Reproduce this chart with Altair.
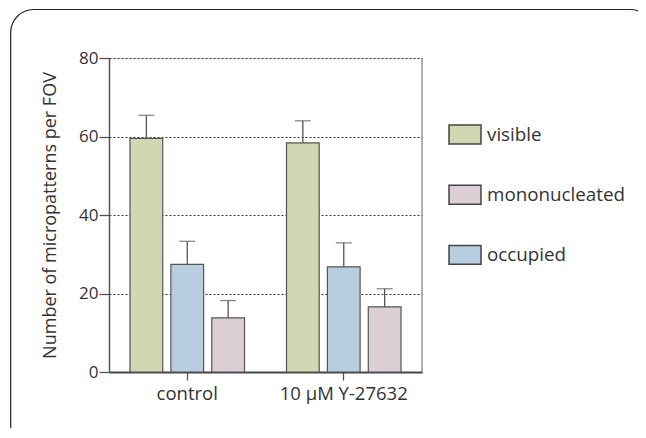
import altair as alt
import pandas as pd

groups = ["control", "10 µM Y-27632"]
series_order = ["visible", "occupied", "mononucleated"]
legend_order = ["visible", "mononucleated", "occupied"]
colors = ["#d0d7b1", "#dbcfd5", "#b8cde0"]

visible_mean = [59.5, 58.4]
visible_err = [65.4, 64.0]
occupied_mean = [27.4, 26.8]
occupied_err = [33.3, 32.9]
mono_mean = [13.8, 16.6]
mono_err = [18.2, 21.2]

y_ticks = [0, 20, 40, 60, 80]

rows = []
for i, g in enumerate(groups):
    rows.append({"group": g, "series": "visible", "value": visible_mean[i], "err": visible_err[i]})
    rows.append({"group": g, "series": "occupied", "value": occupied_mean[i], "err": occupied_err[i]})
    rows.append({"group": g, "series": "mononucleated", "value": mono_mean[i], "err": mono_err[i]})
df = pd.DataFrame(rows)

W, H = 313, 314
FONT = "Open Sans"

x_enc = alt.X(
    "group:N", sort=groups,
    scale=alt.Scale(paddingInner=0, paddingOuter=0),
    axis=alt.Axis(title=None, labelAngle=0, labelFontSize=18.5, labelColor="#333",
                  labelFont=FONT, tickSize=8, tickColor="#555", tickWidth=1.3,
                  domainColor="#444", domainWidth=2, labelPadding=4, grid=False),
)
xoff = alt.XOffset("series:N", sort=series_order,
                   scale=alt.Scale(paddingInner=0.2, paddingOuter=0.513))
y_scale = alt.Scale(domain=[0, 80], nice=False)

base = alt.Chart(df)

bars = base.mark_bar(stroke="#555", strokeWidth=1.2).encode(
    x=x_enc,
    xOffset=xoff,
    y=alt.Y("value:Q", scale=y_scale,
            axis=alt.Axis(values=y_ticks, title="Number of micropatterns per FOV",
                          titleFont=FONT, titleFontSize=18, titleFontWeight="normal",
                          titleColor="#333", titlePadding=19,
                          labelFont=FONT, labelFontSize=17, labelColor="#333",
                          tickSize=10, tickColor="#555", tickWidth=1.3, labelPadding=1,
                          domainColor="#555", domainWidth=1.5,
                          grid=True, gridDash=[2, 2], gridColor="#333", gridWidth=1)),
    color=alt.Color("series:N",
                    scale=alt.Scale(domain=legend_order, range=colors),
                    legend=alt.Legend(title=None, orient="none", legendX=339, legendY=59.5,
                                      symbolType="M-1,-0.59L1,-0.59L1,0.59L-1,0.59Z",
                                      symbolSize=1024, symbolStrokeColor="#444",
                                      symbolStrokeWidth=1.5, symbolOpacity=1,
                                      labelFont=FONT, labelFontSize=18.8, labelColor="#333",
                                      labelOffset=5, rowPadding=30.2, padding=0)),
)

err_lines = base.mark_rule(color="#555", strokeWidth=1.3).encode(
    x=alt.X("group:N", sort=groups),
    xOffset=xoff,
    y=alt.Y("value:Q", scale=y_scale),
    y2="err:Q",
)

caps = base.mark_tick(color="#555", orient="horizontal", size=16, thickness=1.3).encode(
    x=alt.X("group:N", sort=groups),
    xOffset=xoff,
    y=alt.Y("err:Q", scale=y_scale),
)

frame_df = pd.DataFrame({"k": [0]})
right_border = alt.Chart(frame_df).mark_rule(color="#888", strokeWidth=1.2).encode(
    x=alt.value(W), y=alt.value(0), y2=alt.value(H)
)
frame = alt.Chart(frame_df).mark_rect(
    filled=False, stroke="#222", strokeWidth=1.2, cornerRadius=23
).encode(
    x=alt.value(-98.3), x2=alt.value(544), y=alt.value(-48.5), y2=alt.value(390)
)

chart = alt.layer(bars, err_lines, caps, right_border, frame).properties(
    width=W, height=H,
    autosize=alt.AutoSizeParams(type="none"),
    padding={"left": 101, "top": 50, "right": 216, "bottom": 56},
).configure_view(stroke=None).configure(background="white")

chart.save("out.html", embed_options={"renderer": "svg", "actions": False})
